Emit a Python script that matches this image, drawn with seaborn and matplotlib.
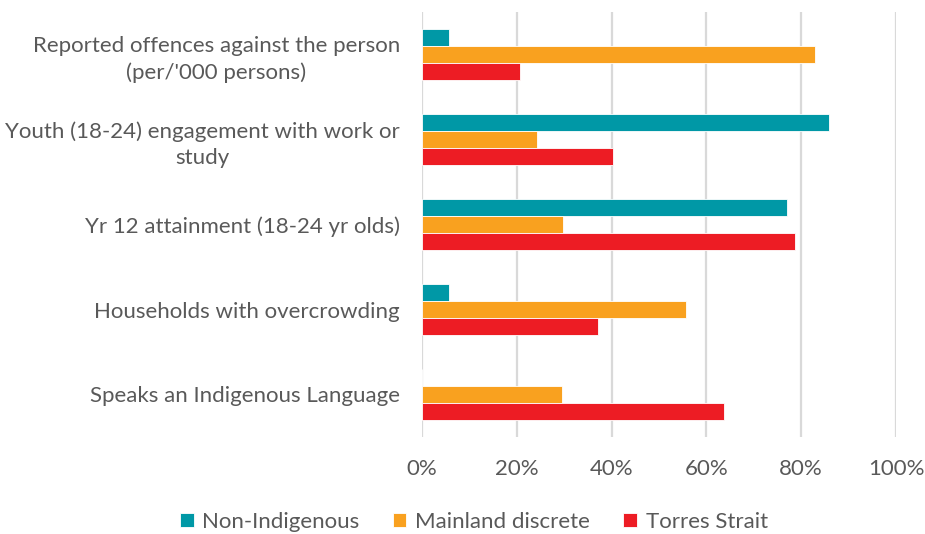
import matplotlib
matplotlib.use("Agg")
import matplotlib.pyplot as plt
import seaborn as sns
import pandas as pd
from matplotlib.ticker import PercentFormatter

categories = [
    "Reported offences against the person\n(per/'000 persons)",
    "Youth (18-24) engagement with work or\nstudy",
    "Yr 12 attainment (18-24 yr olds)",
    "Households with overcrowding",
    "Speaks an Indigenous Language",
]
series = ["Non-Indigenous", "Mainland discrete", "Torres Strait"]
non_indigenous = [5.8, 85.8, 77.0, 5.8, 0.0]
mainland_discrete = [82.9, 24.2, 29.8, 55.6, 29.6]
torres_strait = [20.6, 40.4, 78.6, 37.2, 63.7]
colors = ["#0098A6", "#F9A11F", "#ED1C24"]
x_ticks = [0, 20, 40, 60, 80, 100]

df = pd.DataFrame({
    "Indicator": categories * 3,
    "Group": [s for s in series for _ in categories],
    "Value": non_indigenous + mainland_discrete + torres_strait,
})

sns.set_theme(style="white")
plt.rcParams["font.family"] = ["Lato", "DejaVu Sans"]
text_color = "#595959"
fs = 16

fig = plt.figure(figsize=(9.25, 5.34), dpi=100)
ax = fig.add_axes([422 / 925, 1 - 437 / 534, 474 / 925, 425 / 534])

sns.barplot(
    data=df, y="Indicator", x="Value", hue="Group", order=categories,
    hue_order=series, palette=colors, width=0.61, orient="h",
    edgecolor="white", linewidth=0.6, saturation=1, ax=ax, legend=True,
)

ax.set_xlim(0, 100)
ax.set_ylim(4.5, -0.5)
ax.set_xticks(x_ticks)
ax.xaxis.set_major_formatter(PercentFormatter(decimals=0))
ax.grid(axis="x", color="#D9D9D9", linewidth=1.6)
ax.set_axisbelow(True)
for s in ax.spines.values():
    s.set_visible(False)
ax.set_xlabel("")
ax.set_ylabel("")
ax.tick_params(axis="both", length=0, labelsize=fs, labelcolor=text_color)
ax.tick_params(axis="y", pad=16)
ax.tick_params(axis="x", pad=16)
for lab in ax.get_yticklabels():
    lab.set_multialignment("center")
    lab.set_linespacing(1.38)

handles, labels = ax.get_legend_handles_labels()
ax.get_legend().remove()
fig.legend(
    handles, labels, loc="center", bbox_to_anchor=(474 / 925, 1 - 522 / 534),
    ncol=3, frameon=False, fontsize=fs, labelcolor=text_color,
    handlelength=0.6, handleheight=0.6, handletextpad=0.4, columnspacing=1.5,
)

fig.savefig("out.png", dpi=100)
